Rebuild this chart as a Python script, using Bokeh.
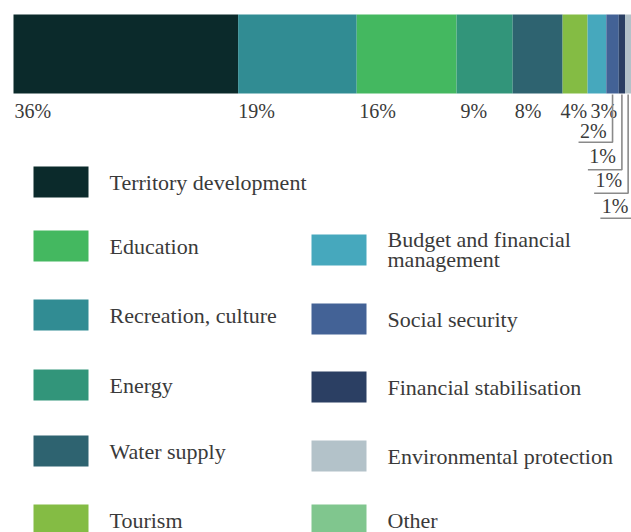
from bokeh.plotting import figure
from bokeh.models import Range1d, ColumnDataSource
from bokeh.embed import file_html
from bokeh.resources import INLINE
from bokeh.core.properties import value

# ---------------- data ----------------
categories = ["Territory development", "Recreation, culture", "Education", "Energy",
              "Water supply", "Tourism", "Budget and financial management",
              "Social security", "Financial stabilisation", "Environmental protection", "Other"]
shares = [36, 19, 16, 9, 8, 4, 3, 2, 1, 1, 1]
colors = ["#0b2a2b", "#318c93", "#44b860", "#32957a", "#2e6370", "#84bc44",
          "#46a8bd", "#436296", "#2b3f63", "#b3c2c9", "#80c68e"]
labels = [f"{v}%" for v in shares]

legend_left = ["Territory development", "Education", "Recreation, culture",
               "Energy", "Water supply", "Tourism"]
legend_right = ["Budget and financial management", "Social security",
                "Financial stabilisation", "Environmental protection", "Other"]
legend_text = {"Budget and financial management": "Budget and financial\nmanagement"}

# ---------------- layout ----------------
W, H = 631, 532
BAR_X0 = 13.0
PX_PER_PCT = 6.24
BAR_TOP, BAR_BOT = 14, 93
FONT = value("Liberation Serif")
TEXT_COLOR = "#3a3a3a"
BASE_FIX = -7.5          # renderer places the text anchor ~0.37em above the baseline
inline_offsets = [1, 0, 2.5, 4, 2, -2, 3]

p = figure(width=W, height=H,
           x_range=Range1d(-BAR_X0 / PX_PER_PCT, (W - BAR_X0) / PX_PER_PCT),
           y_range=Range1d(H, 0),
           output_backend="svg", toolbar_location=None,
           x_axis_location=None, y_axis_location=None,
           min_border=0, min_border_left=0, min_border_right=0,
           min_border_top=0, min_border_bottom=0)
p.extra_x_ranges = {"px": Range1d(0, W)}
p.grid.visible = False
p.outline_line_color = None
p.background_fill_color = "white"
p.border_fill_color = "white"

# ---------------- stacked bar ----------------
starts, ends = [], []
acc = 0
for v in shares:
    starts.append(acc)
    acc += v
    ends.append(acc)
centers = [(a + b) / 2 for a, b in zip(starts, ends)]

bar_src = ColumnDataSource(dict(left=starts, right=ends, color=colors, cat=categories))
p.hbar(y=(BAR_TOP + BAR_BOT) / 2, height=BAR_BOT - BAR_TOP, left="left", right="right",
       fill_color="color", line_color=None, source=bar_src)

# inline labels (large shares)
inl = [i for i, v in enumerate(shares) if v >= 3]
p.text(x=[starts[i] for i in inl], y=[117.5 + BASE_FIX] * len(inl),
       text=[labels[i] for i in inl], x_offset=inline_offsets[:len(inl)],
       text_font=FONT, text_font_size="20px", text_color=TEXT_COLOR,
       text_align="left", text_baseline="alphabetic")

# leader labels (small shares)
small = [i for i, v in enumerate(shares) if v < 3]
line_levels = [141.7, 169.3, 192.7, 217.7]
text_levels = [138.3, 163.0, 187.0, 213.3]
lead_len = 34 / PX_PER_PCT
xs, ys = [], []
for k, i in enumerate(small):
    c = centers[i]
    xs.append([c, c, c - lead_len])
    ys.append([BAR_BOT + 1, line_levels[k], line_levels[k]])
p.multi_line(xs=xs, ys=ys, line_color="#8a8a8a", line_width=1.6)
p.text(x=[centers[i] for i in small], y=[t + BASE_FIX for t in text_levels[:len(small)]],
       text=[labels[i] for i in small], x_offset=-6,
       text_font=FONT, text_font_size="20px", text_color=TEXT_COLOR,
       text_align="right", text_baseline="alphabetic")

# ---------------- legend ----------------
color_of = dict(zip(categories, colors))
SW_W, SW_H = 55, 31
columns = [
    (legend_left, 33, 109, [166, 230, 299, 369, 435, 504]),
    (legend_right, 311, 387, [234, 303, 371, 440, 504]),
]
sw = dict(left=[], right=[], top=[], bottom=[], color=[])
tx = dict(x=[], y=[], text=[])
for names, sx, tx0, tops in columns:
    for name, top in zip(names, tops):
        sw["left"].append(sx)
        sw["right"].append(sx + SW_W)
        sw["top"].append(top)
        sw["bottom"].append(top + SW_H)
        sw["color"].append(color_of[name])
        lines = legend_text.get(name, name).split("\n")
        n = len(lines)
        for j, ln in enumerate(lines):
            tx["x"].append(tx0)
            tx["y"].append(top + 23.5 + (j - (n - 1) / 2) * 20
                           - (1.5 if n > 1 else 0) + BASE_FIX)
            tx["text"].append(ln)

p.quad(left="left", right="right", top="top", bottom="bottom", fill_color="color",
       line_color=None, source=ColumnDataSource(sw), x_range_name="px")
p.text(x="x", y="y", text="text", source=ColumnDataSource(tx), x_range_name="px",
       text_font=FONT, text_font_size="22px", text_color=TEXT_COLOR,
       text_align="left", text_baseline="alphabetic")

open("out.html", "w").write(file_html(p, INLINE))
